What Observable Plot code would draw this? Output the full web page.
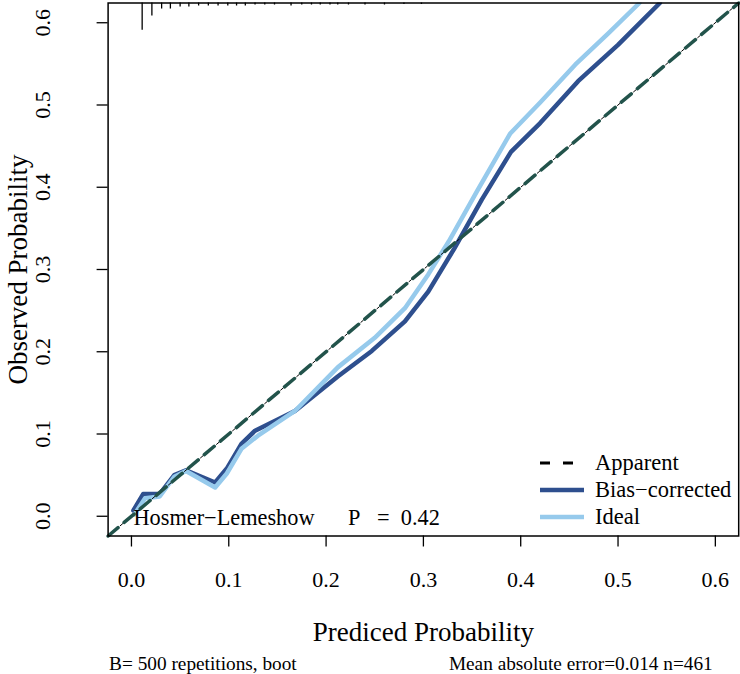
<!DOCTYPE html>
<html><head><meta charset="utf-8">
<script src="https://cdn.jsdelivr.net/npm/d3@7"></script>
<script src="https://cdn.jsdelivr.net/npm/@observablehq/plot@0.6"></script>
<style>body{margin:0;background:#fff} svg{display:block}</style>
</head><body><div id="chart"></div>
<script>
const xTicks = [0, 0.1, 0.2, 0.3, 0.4, 0.5, 0.6];
const yTicks = [0, 0.1, 0.2, 0.3, 0.4, 0.5, 0.6];
const apparentX = [-0.024, 0.624];
const apparentY = [-0.024, 0.624];
const biasX = [0.002, 0.012, 0.029, 0.044, 0.056, 0.086, 0.098, 0.113, 0.127, 0.168, 0.212, 0.247, 0.281, 0.305, 0.332, 0.360, 0.390, 0.420, 0.459, 0.500, 0.543];
const biasY = [0.007, 0.027, 0.027, 0.050, 0.056, 0.041, 0.058, 0.088, 0.104, 0.128, 0.170, 0.201, 0.237, 0.273, 0.326, 0.385, 0.443, 0.478, 0.529, 0.573, 0.624];
const idealX = [0.003, 0.014, 0.029, 0.044, 0.056, 0.086, 0.098, 0.113, 0.130, 0.168, 0.212, 0.250, 0.281, 0.305, 0.326, 0.355, 0.389, 0.420, 0.456, 0.490, 0.522];
const idealY = [0.002, 0.022, 0.024, 0.048, 0.055, 0.035, 0.052, 0.082, 0.098, 0.128, 0.181, 0.217, 0.253, 0.294, 0.334, 0.395, 0.465, 0.503, 0.549, 0.587, 0.624];
const rugX = [0.011, 0.021, 0.031, 0.040, 0.050, 0.059, 0.069, 0.079, 0.089, 0.099, 0.108, 0.117, 0.127, 0.137, 0.147, 0.164, 0.175, 0.185, 0.194, 0.204, 0.212, 0.223, 0.240, 0.260, 0.280, 0.298];
const rugFreq = [27, 13, 6, 6, 4, 4, 3, 3, 3, 3, 3, 3, 2, 2, 2, 3, 2, 2, 2, 2, 2, 2, 2, 2, 1.5, 1.5];
const legendLabels = ["Apparent", "Bias\u2212corrected", "Ideal"];
const hlText = "Hosmer\u2212Lemeshow\u00a0\u00a0\u00a0\u00a0\u00a0\u00a0P\u00a0\u00a0\u00a0=\u00a0\u00a00.42";
const xLabel = "Prediced Probability";
const yLabel = "Observed Probability";
const footLeft = "B= 500 repetitions, boot";
const footRight = "Mean absolute error=0.014 n=461";

const F = '"Liberation Serif", "Times New Roman", serif';
const DARK = "#2e4f8e", LIGHT = "#96caec", TEAL = "#22534b";

const apparent = apparentX.map((x, i) => ({x, y: apparentY[i]}));
const bias = biasX.map((x, i) => ({x, y: biasY[i]}));
const ideal = idealX.map((x, i) => ({x, y: idealY[i]}));
const maxF = d3.max(rugFreq);
const rugTop = 0.624, rugLen = 0.033;
const rug = rugX.map((x, i) => ({x, f: rugFreq[i]}));

const plot = Plot.plot({
  width: 740, height: 674,
  marginLeft: 107.6, marginRight: 1.8, marginTop: 2.5, marginBottom: 138.5,
  style: {fontFamily: F, background: "white", color: "black"},
  x: {domain: [-0.024, 0.624]},
  y: {domain: [-0.024, 0.624]},
  marks: [
    Plot.axisX({ticks: xTicks, tickSize: 11, tickFormat: () => "", label: null, strokeWidth: 1.3}),
    Plot.axisY({ticks: yTicks, tickSize: 11, tickFormat: () => "", label: null, strokeWidth: 1.3}),
    Plot.text(xTicks, {x: d => d, frameAnchor: "bottom", lineAnchor: "middle", textAnchor: "middle", dy: 44, text: d => d.toFixed(1), fontSize: 22}),
    Plot.text(yTicks, {y: d => d, frameAnchor: "left", lineAnchor: "middle", textAnchor: "middle", dx: -65, rotate: -90, text: d => d.toFixed(1), fontSize: 22}),
    Plot.text([xLabel], {frameAnchor: "bottom", lineAnchor: "middle", textAnchor: "middle", dy: 96, fontSize: 27}),
    Plot.text([yLabel], {frameAnchor: "left", lineAnchor: "middle", textAnchor: "middle", dx: -89.6, rotate: -90, fontSize: 27}),
    Plot.text([footLeft], {frameAnchor: "bottom-left", lineAnchor: "middle", dx: 1, dy: 127.5, textAnchor: "start", fontSize: 19.3}),
    Plot.text([footRight], {frameAnchor: "bottom-right", lineAnchor: "middle", dx: -26, dy: 127.5, textAnchor: "end", fontSize: 19.3}),
    Plot.ruleX(rug, {x: "x", y1: rugTop, y2: d => rugTop - d.f / maxF * rugLen, stroke: "black", strokeWidth: 1.3}),
    Plot.line(bias, {x: "x", y: "y", stroke: DARK, strokeWidth: 4.5, clip: true}),
    Plot.line(ideal, {x: "x", y: "y", stroke: LIGHT, strokeWidth: 4.5, clip: true}),
    Plot.line(apparent, {x: "x", y: "y", stroke: "black", strokeWidth: 1, strokeDasharray: "0,16,3,2"}),
    Plot.line(apparent, {x: "x", y: "y", stroke: TEAL, strokeWidth: 3.5, strokeDasharray: "13,8"}),
    Plot.text([hlText], {frameAnchor: "bottom-left", lineAnchor: "middle", dx: 25.4, dy: -18.5, textAnchor: "start", fontSize: 22.3}),
    Plot.frame({stroke: "black", strokeWidth: 1.5})
  ]
});

// legend
const svg = d3.select(plot);
const lg = svg.append("g").attr("font-family", F).attr("font-size", 22.5).attr("text-anchor", "start");
const legendStyles = [
  {stroke: "black", w: 3, dash: "10,13", len: 34},
  {stroke: DARK, w: 4.5, dash: null, len: 44},
  {stroke: LIGHT, w: 4.5, dash: null, len: 44}
];
legendLabels.forEach((lab, i) => {
  const y = 463 + i * 27;
  const s = legendStyles[i];
  const ln = lg.append("line").attr("x1", 540).attr("x2", 540 + s.len).attr("y1", y).attr("y2", y)
    .attr("stroke", s.stroke).attr("stroke-width", s.w);
  if (s.dash) ln.attr("stroke-dasharray", s.dash);
  lg.append("text").attr("x", 595).attr("y", y).attr("dy", "0.32em").attr("fill", "black").text(lab);
});

document.getElementById("chart").appendChild(plot);
</script>
</body></html>
